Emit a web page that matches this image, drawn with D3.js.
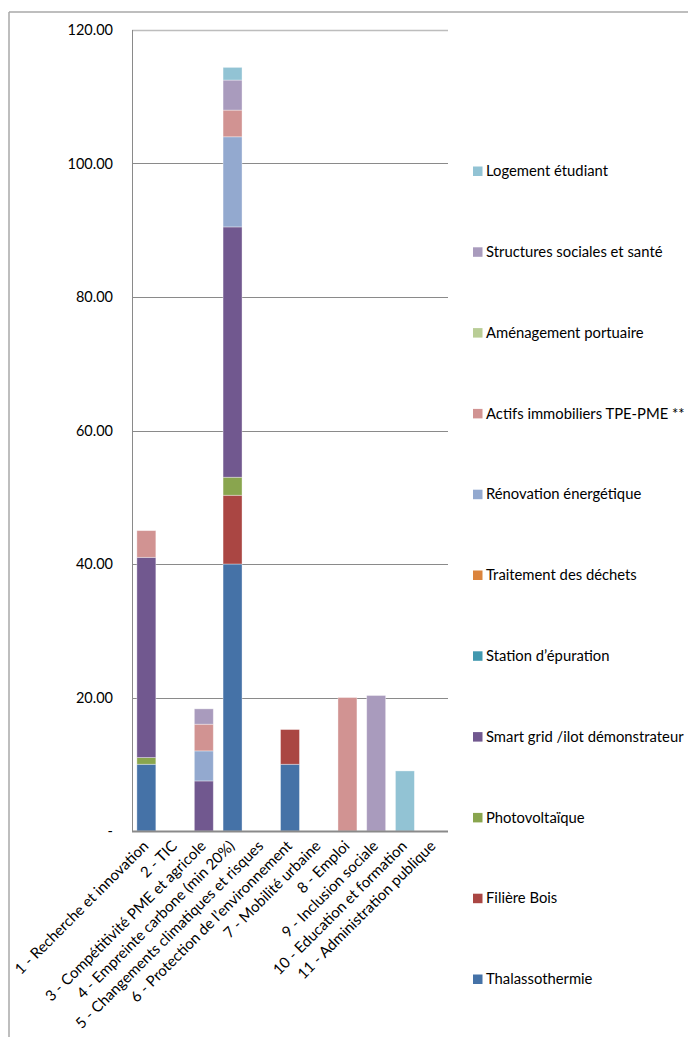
<!DOCTYPE html>
<html>
<head>
<meta charset="utf-8">
<script src="https://cdn.jsdelivr.net/npm/d3@7"></script>
<style>
  html, body { margin: 0; padding: 0; background: #fff; }
  svg { display: block; }
  text { font-family: Lato, "Open Sans", sans-serif; fill: #000; }
</style>
</head>
<body>
<svg id="chart" width="688" height="1037"></svg>
<script>
// Thematic axes (x categories)
const categories = [
  "1 - Recherche et innovation",
  "2 - TIC",
  "3 - Compétitivité PME et agricole",
  "4 - Empreinte carbone (min 20%)",
  "5 - Changements climatiques et risques",
  "6 - Protection de l’environnement",
  "7 - Mobilité urbaine",
  "8 - Emploi",
  "9 - Inclusion sociale",
  "10 - Education et formation",
  "11 - Administration publique"
];

// Series, in stacking order (bottom to top)
const seriesNames = [
  "Thalassothermie",
  "Filière Bois",
  "Photovoltaïque",
  "Smart grid /ilot démonstrateur",
  "Station d’épuration",
  "Traitement des déchets",
  "Rénovation énergétique",
  "Actifs immobiliers TPE-PME **",
  "Aménagement portuaire",
  "Structures sociales et santé",
  "Logement étudiant"
];
const seriesColors = [
  "#4572A7", "#AA4643", "#89A54E", "#71588F", "#4198AF", "#DB843D",
  "#93A9CF", "#D19392", "#B9CD96", "#A99BBD", "#92C3D4"
];

// Values per category, one array per series
const thalassothermie = [10, 0, 0, 40, 0, 10, 0, 0, 0, 0, 0];
const filiereBois     = [0, 0, 0, 10.3, 0, 5.2, 0, 0, 0, 0, 0];
const photovoltaique  = [1, 0, 0, 2.7, 0, 0, 0, 0, 0, 0, 0];
const smartGrid       = [30, 0, 7.5, 37.5, 0, 0, 0, 0, 0, 0, 0];
const stationEpuration = [0, 0, 0, 0, 0, 0, 0, 0, 0, 0, 0];
const traitementDechets = [0, 0, 0, 0, 0, 0, 0, 0, 0, 0, 0];
const renovation      = [0, 0, 4.5, 13.5, 0, 0, 0, 0, 0, 0, 0];
const actifsImmo      = [4, 0, 4, 4, 0, 0, 0, 20, 0, 0, 0];
const amenagement     = [0, 0, 0, 0, 0, 0, 0, 0, 0, 0, 0];
const structures      = [0, 0, 2.3, 4.5, 0, 0, 0, 0, 20.3, 0, 0];
const logement        = [0, 0, 0, 1.9, 0, 0, 0, 0, 0, 9, 0];

const yTicks = [0, 20, 40, 60, 80, 100, 120];
const yTickLabels = ["-", "20.00", "40.00", "60.00", "80.00", "100.00", "120.00"];

const seriesValues = [
  thalassothermie, filiereBois, photovoltaique, smartGrid, stationEpuration,
  traitementDechets, renovation, actifsImmo, amenagement, structures, logement
];

// Table for d3.stack
const table = categories.map((c, i) => {
  const row = { category: c };
  seriesNames.forEach((s, k) => { row[s] = seriesValues[k][i]; });
  return row;
});
const stacked = d3.stack().keys(seriesNames)(table);

const svg = d3.select("#chart");

const plot = { left: 132, right: 448, top: 30, bottom: 831 };

const x = d3.scaleBand()
  .domain(categories)
  .range([plot.left, plot.right])
  .paddingInner(0.34)
  .paddingOuter(0.17);

const y = d3.scaleLinear()
  .domain([0, 120])
  .range([plot.bottom, plot.top]);

// Outer chart frame (top and left edges visible)
svg.append("line").attr("x1", 9).attr("x2", 688).attr("y1", 12).attr("y2", 12)
  .attr("stroke", "#a8a8a8").attr("stroke-width", 1.5);
svg.append("line").attr("x1", 9).attr("x2", 9).attr("y1", 12).attr("y2", 1037)
  .attr("stroke", "#a8a8a8").attr("stroke-width", 1.5);

// Horizontal gridlines
svg.append("g").selectAll("line")
  .data(yTicks.filter(t => t > 0))
  .join("line")
  .attr("x1", plot.left).attr("x2", plot.right)
  .attr("y1", d => Math.round(y(d)) + 0.5).attr("y2", d => Math.round(y(d)) + 0.5)
  .attr("stroke", d => d === 120 ? "#bdbdbd" : "#8a8a8a")
  .attr("stroke-width", d => d === 120 ? 1.5 : 1);

// Y axis labels
const yAxis = d3.axisLeft(y)
  .tickValues(yTicks)
  .tickFormat((d, i) => yTickLabels[i])
  .tickSize(0)
  .tickPadding(19);
const gy = svg.append("g").attr("transform", `translate(${plot.left},0)`).call(yAxis);
gy.select(".domain").remove();
gy.selectAll("text")
  .style("font-family", "Lato, 'Open Sans', sans-serif")
  .style("font-size", "14.5px")
  .attr("fill", "#000");

// Stacked bars
svg.append("g").selectAll("g")
  .data(stacked)
  .join("g")
  .attr("fill", (d, i) => seriesColors[i])
  .selectAll("rect")
  .data(d => d.filter(p => p[1] - p[0] > 0))
  .join("rect")
  .attr("x", d => x(d.data.category))
  .attr("width", x.bandwidth())
  .attr("y", d => y(d[1]))
  .attr("height", d => y(d[0]) - y(d[1]))
  .attr("stroke", "#ffffff")
  .attr("stroke-opacity", 0.45)
  .attr("stroke-width", 0.8);

// Axis lines
svg.append("line").attr("x1", plot.left + 0.5).attr("x2", plot.left + 0.5)
  .attr("y1", plot.top).attr("y2", plot.bottom)
  .attr("stroke", "#8a8a8a").attr("stroke-width", 1);
svg.append("line").attr("x1", plot.left).attr("x2", plot.right)
  .attr("y1", plot.bottom + 0.5).attr("y2", plot.bottom + 0.5)
  .attr("stroke", "#8a8a8a").attr("stroke-width", 2);

// X axis labels, rotated
const xAxis = d3.axisBottom(x).tickSize(0).tickPadding(0);
const gx = svg.append("g").attr("transform", `translate(0,${plot.bottom})`).call(xAxis);
gx.select(".domain").remove();
gx.selectAll("text")
  .style("font-family", "Lato, 'Open Sans', sans-serif")
  .style("font-size", "15px")
  .attr("fill", "#000")
  .attr("text-anchor", "end")
  .attr("dy", null)
  .attr("y", 0)
  .attr("transform", "translate(3,16) rotate(-45)");

// Legend
const legend = svg.append("g").selectAll("g")
  .data(seriesNames.slice().reverse())
  .join("g")
  .attr("transform", (d, i) => `translate(473,${171 + i * 80.8})`);
legend.append("rect")
  .attr("x", 0).attr("y", -4.5).attr("width", 9.5).attr("height", 9.5)
  .attr("fill", d => seriesColors[seriesNames.indexOf(d)]);
legend.append("text")
  .attr("x", 13).attr("y", 0).attr("dy", "0.35em")
  .style("font-size", "14.8px")
  .text(d => d);
</script>
</body>
</html>
